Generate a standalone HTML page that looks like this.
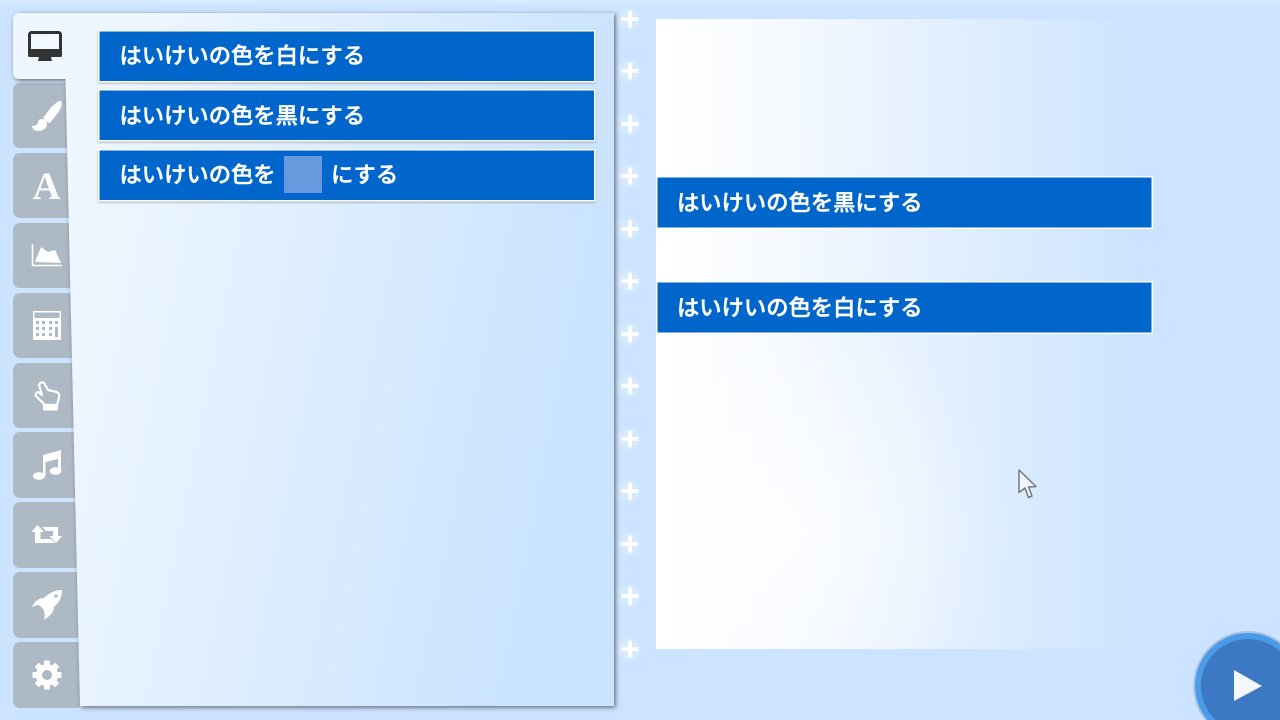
<!DOCTYPE html>
<html lang="ja"><head><meta charset="utf-8"><title>はいけいの色</title>
<style>
html,body{margin:0;padding:0;width:1280px;height:720px;overflow:hidden;background:#cce4ff}
svg{display:block}
text{font-family:"Liberation Sans","Noto Sans CJK JP",sans-serif;fill:#fff;font-size:22.3px;font-weight:500;stroke:#fff;stroke-width:.45px}
</style></head><body>
<svg xmlns="http://www.w3.org/2000/svg" width="1280" height="720" viewBox="0 0 1280 720">
<defs>
<linearGradient id="pg" gradientUnits="userSpaceOnUse" x1="70" y1="300" x2="570" y2="400">
<stop offset="0" stop-color="#eef7ff"/><stop offset="0.42" stop-color="#dfeeff"/><stop offset="1" stop-color="#cae3ff"/></linearGradient>
<linearGradient id="cg" gradientUnits="userSpaceOnUse" x1="670" y1="0" x2="1140" y2="0">
<stop offset="0" stop-color="#ffffff"/><stop offset="0.28" stop-color="#f3f8ff"/><stop offset="0.62" stop-color="#e1eeff"/><stop offset="1" stop-color="#cce4ff"/></linearGradient>
<radialGradient id="cw" gradientUnits="userSpaceOnUse" cx="780" cy="530" r="230">
<stop offset="0" stop-color="#fff" stop-opacity=".75"/><stop offset="1" stop-color="#fff" stop-opacity="0"/></radialGradient>
<clipPath id="cc"><rect x="656" y="19" width="496" height="630"/></clipPath>
<filter id="sh" x="-5%" y="-5%" width="110%" height="110%"><feDropShadow dx="1.500" dy="1.500" stdDeviation="2.500" flood-color="#333" flood-opacity=".7"/></filter>
<filter id="bs" x="-5%" y="-20%" width="110%" height="140%"><feDropShadow dx="0" dy="1" stdDeviation="1" flood-color="#666" flood-opacity=".5"/></filter>
<filter id="gl" x="-50%" y="-50%" width="200%" height="200%"><feGaussianBlur stdDeviation="1.500"/></filter>
</defs>
<rect width="1280" height="720" fill="#cce4ff"/>
<rect width="1280" height="4" fill="#d6eaff"/>
<rect x="656" y="19" width="496" height="630" fill="url(#cg)"/>
<rect x="656" y="19" width="496" height="630" fill="url(#cw)" clip-path="url(#cc)"/>

<!-- inactive tabs -->
<g fill="#aeb9c6">
<rect x="13" y="83" width="70" height="65" rx="7"/>
<rect x="13" y="153" width="70" height="65" rx="7"/>
<rect x="13" y="223" width="70" height="65" rx="7"/>
<rect x="13" y="293" width="70" height="65" rx="7"/>
<rect x="13" y="363" width="70" height="65" rx="7"/>
<rect x="13" y="432" width="70" height="66" rx="7"/>
<rect x="13" y="502" width="70" height="66" rx="7"/>
<rect x="13" y="572" width="70" height="66" rx="7"/>
<rect x="13" y="642" width="70" height="66" rx="7"/>
</g>

<!-- panel -->
<path d="M20 13H614V706H80L65.500 79H20Q13 79 13 72V20Q13 13 20 13Z" fill="url(#pg)" filter="url(#sh)"/>

<!-- monitor icon -->
<rect x="29.500" y="32.500" width="31" height="20" rx="2" fill="#f2f8ff" stroke="#333" stroke-width="3"/>
<rect x="28" y="49" width="34" height="8" rx="1.500" fill="#333"/>
<path d="M39 57h12l1 4H38z" fill="#333"/>

<!-- brush -->
<g fill="#fff">
<path d="M61 101c2 2 0 8-4 13l-7 9c-2 0-6-3-7-5l6-8c4-5 10-10 12-9z"/>
<path d="M41 119c3 0 7 3 6 6-1 4-5 6-9 6-3 0-6-2-6-5 3 0 5-1 6-3 0-2 1-4 3-4z"/>
</g>

<!-- A -->
<text x="32.500" y="199" style="font-family:'Liberation Serif',serif;font-size:39px;font-weight:700;stroke:none" fill-opacity=".95">A</text>

<!-- chart -->
<path d="M32.500 244V265.500H62" fill="none" stroke="#fff" stroke-width="1.500"/>
<path d="M35 262L41 247L48 252L55 250L61 263Z" fill="#fff"/>

<!-- calculator -->
<rect x="33" y="311" width="28" height="29" fill="#fff"/>
<g fill="#aeb9c6">
<rect x="34.500" y="312.500" width="25" height="5.500"/>
<rect x="36" y="321" width="3" height="3"/><rect x="42" y="321" width="3" height="3"/><rect x="49" y="321" width="3" height="3"/><rect x="55" y="321" width="3" height="3"/>
<rect x="36" y="327" width="3" height="3"/><rect x="42" y="327" width="3" height="3"/><rect x="49" y="327" width="3" height="3"/>
<rect x="36" y="333" width="3" height="3"/><rect x="42" y="333" width="3" height="3"/><rect x="49" y="333" width="3" height="3"/>
<rect x="55" y="327" width="3" height="10"/>
</g>

<!-- hand -->
<path d="M39 385Q41 381 44 383L48 390L57 392Q60 394 59 398L57 405H45L36 396Q35 393 38 392L42 395Z" fill="#aeb9c6" stroke="#fff" stroke-width="2.200" stroke-linejoin="round"/>
<rect x="43" y="404" width="15" height="6.500" rx="1" fill="#fff"/>

<!-- music -->
<path d="M43 455L61 450V471H58V459L45.500 462V476H43Z" fill="#fff"/>
<ellipse cx="39" cy="476" rx="6" ry="3.800" fill="#fff"/>
<ellipse cx="55.500" cy="471" rx="5.800" ry="3.800" fill="#fff"/>

<!-- retweet -->
<path d="M37.500 525L44 532H40.500V539H51L55 543H35V532H31.500Z" fill="#fff"/>
<path d="M42 527H58V536H62L56 543L49.500 536H53V531H46Z" fill="#fff"/>

<!-- rocket -->
<path d="M62 590C62 597 59 603 54 607C54 612 50 616 44 620C45 615 45 612 43 609L40 606C37 604 36 606 32 607C35 601 39 598 44 598C49 593 55 590 62 590Z" fill="#fff"/>
<circle cx="56" cy="596" r="1.800" fill="#aeb9c6"/>

<!-- gear -->
<g transform="translate(47 675)">
<circle r="11" fill="#fff"/>
<g fill="#fff">
<rect x="-3" y="-14.500" width="6" height="29" rx="1"/>
<rect x="-3" y="-14.500" width="6" height="29" rx="1" transform="rotate(45)"/>
<rect x="-3" y="-14.500" width="6" height="29" rx="1" transform="rotate(90)"/>
<rect x="-3" y="-14.500" width="6" height="29" rx="1" transform="rotate(135)"/>
</g>
<circle r="5" fill="#aeb9c6"/>
</g>

<!-- panel buttons -->
<g fill="#0066cc" stroke="#fff" stroke-width="1.500" filter="url(#bs)">
<rect x="98.750" y="30.750" width="496" height="51"/>
<rect x="98.750" y="89.750" width="496" height="51"/>
<rect x="98.750" y="149.750" width="496" height="51"/>
</g>
<text x="119.500" y="63.500">はいけいの色を白にする</text>
<text x="119.500" y="123.500">はいけいの色を黒にする</text>
<text x="119.500" y="182.500">はいけいの色を</text>
<rect x="284" y="156" width="38" height="37" fill="#6699dd"/>
<text x="331" y="182.500">にする</text>

<!-- canvas buttons -->
<g fill="#0066cc" stroke="#fff" stroke-width="1.500">
<rect x="656.750" y="176.750" width="495.500" height="51.500"/>
<rect x="656.750" y="281.750" width="495.500" height="51.500"/>
</g>
<text x="677" y="210.500">はいけいの色を黒にする</text>
<text x="677" y="315.500">はいけいの色を白にする</text>

<!-- plus markers -->
<g fill="#ffffff" opacity=".2" filter="url(#gl)">
<circle cx="629" cy="19" r="11"/><circle cx="629" cy="71" r="11"/><circle cx="629" cy="124" r="11"/><circle cx="629" cy="176" r="11"/><circle cx="629" cy="229" r="11"/><circle cx="629" cy="281" r="11"/><circle cx="629" cy="334" r="11"/><circle cx="629" cy="386" r="11"/><circle cx="629" cy="439" r="11"/><circle cx="629" cy="491" r="11"/><circle cx="629" cy="544" r="11"/><circle cx="629" cy="596" r="11"/><circle cx="629" cy="649" r="11"/>
</g>
<path fill="none" stroke="#fff" stroke-width="3.800" d="M621.500 19h17M630 10.500v17M621.500 71h17M630 62.500v17M621.500 124h17M630 115.500v17M621.500 176h17M630 167.500v17M621.500 229h17M630 220.500v17M621.500 281h17M630 272.500v17M621.500 334h17M630 325.500v17M621.500 386h17M630 377.500v17M621.500 439h17M630 430.500v17M621.500 491h17M630 482.500v17M621.500 544h17M630 535.500v17M621.500 596h17M630 587.500v17M621.500 649h17M630 640.500v17"/>

<!-- cursor -->
<path d="M1019 470V492.500L1025 488L1028.500 497.500L1032 496L1028.500 487L1036 486.500Z" fill="#eef6ff" stroke="#777" stroke-width="1.500" stroke-linejoin="round"/>

<!-- play button -->
<circle cx="1248" cy="686" r="55" fill="#9fb6d4" opacity=".7"/>
<circle cx="1248" cy="686" r="53" fill="#4c9be8"/>
<circle cx="1248" cy="686" r="47" fill="#3d78c4"/>
<path d="M1234 670L1262 686L1234 701Z" fill="#f2f7fd"/>
</svg>
</body></html>
